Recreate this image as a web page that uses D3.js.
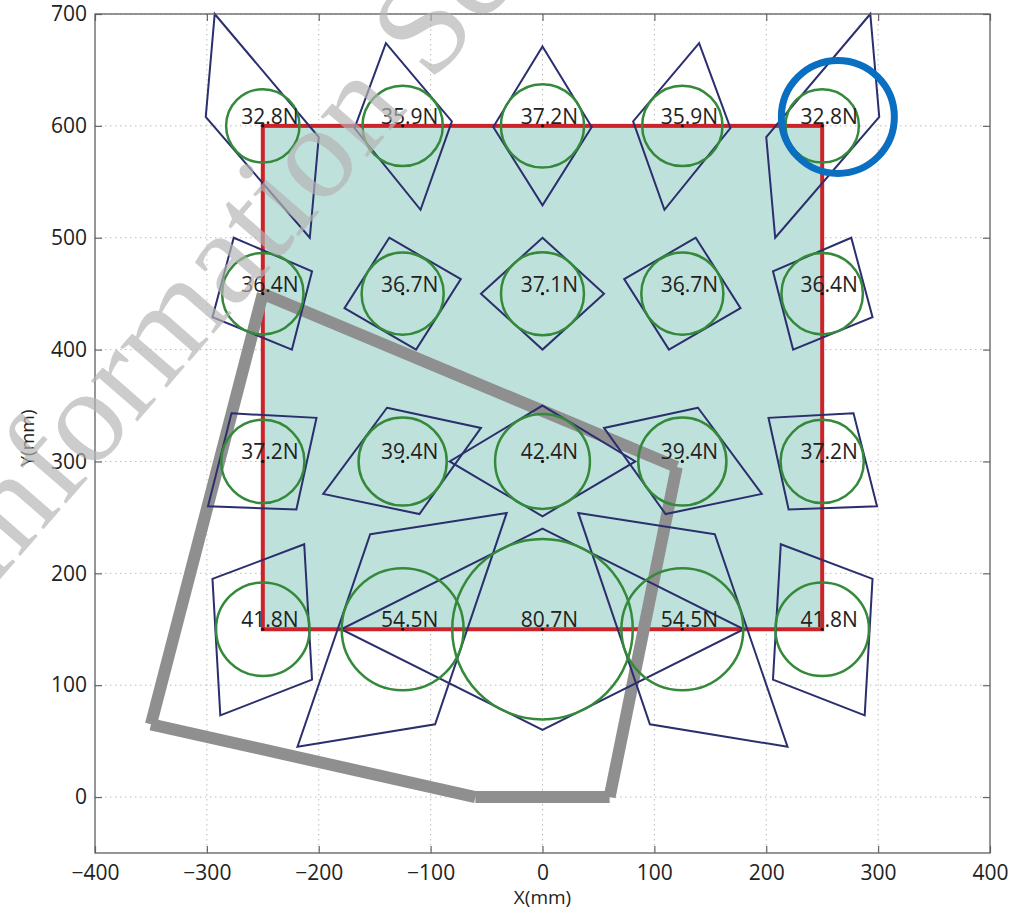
<!DOCTYPE html>
<html><head><meta charset="utf-8">
<script src="https://cdn.jsdelivr.net/npm/d3@7"></script>
<style>
html,body{margin:0;padding:0;background:#fff;}
svg{display:block;}
</style></head>
<body>
<svg id="chart" width="1023" height="912"></svg>
<script>
// ---- data ----
const xTicks = [-400,-300,-200,-100,0,100,200,300,400];
const yTicks = [0,100,200,300,400,500,600,700];
const nodeX = [-250,-125,0,125,250];
const nodeY = [600,450,300,150];
const forces = [
  [32.8,35.9,37.2,35.9,32.8],
  [36.4,36.7,37.1,36.7,36.4],
  [37.2,39.4,42.4,39.4,37.2],
  [41.8,54.5,80.7,54.5,41.8]
];
const quadsRow600 = [
  [[-293,700],[-200,590],[-208,500],[-301,608]],
  [[-140,674],[-81,604],[-109,525],[-168,598]],
  [[0,671],[44,599],[0,529],[-44,599]],
  [[140,674],[81,604],[109,525],[168,598]],
  [[293,700],[200,590],[208,500],[301,608]]
];
const quadsRow450 = [
  [[-276,500],[-206,470],[-224,400],[-295,429]],
  [[-137,500],[-73,463],[-113,400],[-177,437]],
  [[0,500],[55,450],[0,400],[-55,450]],
  [[137,500],[73,463],[113,400],[177,437]],
  [[276,500],[206,470],[224,400],[295,429]]
];
const quadsRow300 = [
  [[-278,343],[-202,339],[-220,257],[-299,260]],
  [[-139,348],[-55,330],[-110,253],[-196,271]],
  [[0,350],[83,300],[0,251],[-83,300]],
  [[139,348],[55,330],[110,253],[196,271]],
  [[278,343],[202,339],[220,257],[299,260]]
];
const quadsRow150 = [
  [[-295,195],[-213,226],[-206,105],[-288,73]],
  [[-154,235],[-32,254],[-96,65],[-219,45]],
  [[0,240],[180,150],[0,60],[-180,150]],
  [[154,235],[32,254],[96,65],[219,45]],
  [[295,195],[213,226],[206,105],[288,73]]
];
const regionRect = [[-250,150],[250,600]];
const greyOutline = [[-60,0],[60,0],[120,295],[-250,450],[-350,65]];
const highlight = {cx:264, cy:608, r:50.5};

// ---- scales ----
const SANS = "'Open Sans',sans-serif";
const svg = d3.select("#chart");
const x = d3.scaleLinear().domain([-400,400]).range([95,990]);
const y = d3.scaleLinear().domain([-50,700]).range([853,14]);
const L = x.range()[0], R = x.range()[1], T = y.range()[1], B = y.range()[0];

// grid
const grid = svg.append("g");
grid.selectAll(".gx").data(xTicks.slice(1,-1)).join("line")
  .attr("x1",d=>x(d)).attr("x2",d=>x(d)).attr("y1",T).attr("y2",B)
  .attr("stroke","#bcbcbc").attr("stroke-width",1).attr("stroke-dasharray","1.5,3.5");
grid.selectAll(".gy").data(yTicks).join("line")
  .attr("y1",d=>y(d)).attr("y2",d=>y(d)).attr("x1",L).attr("x2",R)
  .attr("stroke","#bcbcbc").attr("stroke-width",1).attr("stroke-dasharray","1.5,3.5");

// region rect
svg.append("rect")
  .attr("x",x(regionRect[0][0])).attr("y",y(regionRect[1][1]))
  .attr("width",x(regionRect[1][0])-x(regionRect[0][0]))
  .attr("height",y(regionRect[0][1])-y(regionRect[1][1]))
  .attr("fill","#bfe1dc").attr("stroke","#cc2229").attr("stroke-width",4);

// grey outline segments
const segs = greyOutline.map((p,i)=>[p, greyOutline[(i+1)%greyOutline.length]]);
svg.append("g").selectAll("line").data(segs).join("line")
  .attr("x1",d=>x(d[0][0])).attr("y1",d=>y(d[0][1]))
  .attr("x2",d=>x(d[1][0])).attr("y2",d=>y(d[1][1]))
  .attr("stroke","#8f8f8f").attr("stroke-width",12).attr("stroke-linecap","butt");

// quads
const allQuads = [quadsRow600, quadsRow450, quadsRow300, quadsRow150].flat();
const line = d3.line().x(d=>x(d[0])).y(d=>y(d[1])).curve(d3.curveLinearClosed);
svg.append("g").selectAll("path").data(allQuads).join("path")
  .attr("d",line).attr("fill","none").attr("stroke","#2b2f6d").attr("stroke-width",2);

// nodes
const nodes = [];
nodeY.forEach((yy,i)=>nodeX.forEach((xx,j)=>nodes.push({x:xx,y:yy,f:forces[i][j]})));
svg.append("g").selectAll("circle").data(nodes).join("circle")
  .attr("cx",d=>x(d.x)).attr("cy",d=>y(d.y)).attr("r",d=>x(d.f)-x(0))
  .attr("fill","none").attr("stroke","#34893a").attr("stroke-width",2.5);
svg.append("g").selectAll("circle").data(nodes).join("circle")
  .attr("cx",d=>x(d.x)).attr("cy",d=>y(d.y)).attr("r",1.6).attr("fill","#111");
svg.append("g").selectAll("text").data(nodes).join("text")
  .attr("x",d=>x(d.x)+7).attr("y",d=>y(d.y)-2)
  .attr("text-anchor","middle").style("font-family",SANS).style("font-size","21px").attr("fill","#222")
  .text(d=>d.f.toFixed(1)+"N");

// highlight circle
svg.append("circle").attr("cx",x(highlight.cx)).attr("cy",y(highlight.cy))
  .attr("r",x(highlight.r)-x(0)).attr("fill","none").attr("stroke","#0b6fc1").attr("stroke-width",7);

// axes
const ax = svg.append("g").attr("transform",`translate(0,${B})`)
  .call(d3.axisBottom(x).tickValues(xTicks).tickSize(-7).tickPadding(12));
const ay = svg.append("g").attr("transform",`translate(${L},0)`)
  .call(d3.axisLeft(y).tickValues(yTicks).tickSize(-7).tickPadding(8));
const axT = svg.append("g").attr("transform",`translate(0,${T})`)
  .call(d3.axisTop(x).tickValues(xTicks).tickSize(-7).tickFormat(""));
const ayR = svg.append("g").attr("transform",`translate(${R},0)`)
  .call(d3.axisRight(y).tickValues(yTicks).tickSize(-7).tickFormat(""));
[ax,ay,axT,ayR].forEach(g=>{
  g.attr("font-family",null).attr("font-size",null);
  g.select(".domain").remove();
  g.selectAll(".tick line").attr("stroke","#666").attr("stroke-width",1.2);
  g.selectAll("text").style("font-size","21px").attr("fill","#222").style("font-family",SANS);
});
svg.append("rect").attr("x",L).attr("y",T).attr("width",R-L).attr("height",B-T)
  .attr("fill","none").attr("stroke","#5e5e5e").attr("stroke-width",1.3);

svg.append("text").attr("x",(L+R)/2).attr("y",904).attr("text-anchor","middle")
  .style("font-family",SANS).style("font-size","19px").attr("fill","#222").text("X(mm)");
svg.append("text").attr("transform","translate(34,438) rotate(-90)").attr("text-anchor","middle")
  .style("font-family",SANS).style("font-size","19px").attr("fill","#222").text("Y(mm)");

// watermark
svg.append("text").attr("transform","translate(-11,592) rotate(-49)")
  .style("font-family","'Liberation Serif','DejaVu Serif',serif").style("font-size","134px")
  .attr("fill","#b4b4b4").attr("opacity",0.68).text("Information Sc");
</script>
</body></html>
